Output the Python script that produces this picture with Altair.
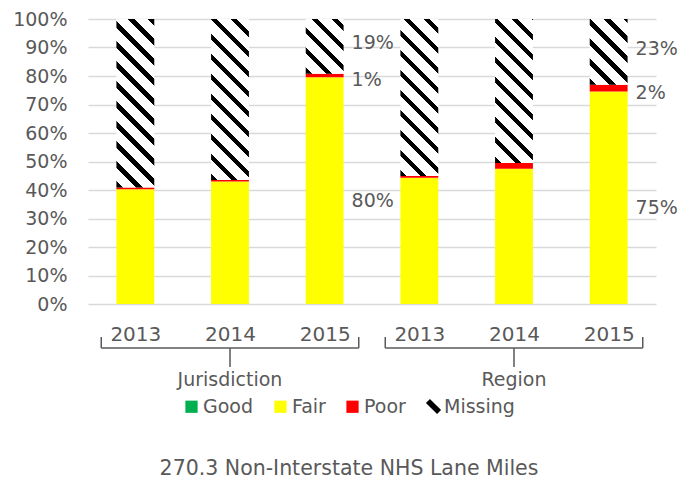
import json
import altair as alt
import pandas as pd

# ---------------- data ----------------
groups = ["Jurisdiction", "Region"]
years = ["2013", "2014", "2015"]
categories = ["Good", "Fair", "Poor", "Missing"]
category_colors = ["#00B050", "#FFFF00", "#FF0000", "#000000"]

good = [0.0, 0.0, 0.0, 0.0, 0.0, 0.0]
fair = [40.3, 43.0, 79.6, 44.3, 47.5, 74.6]
poor = [0.6, 0.5, 1.2, 0.6, 2.0, 2.3]
missing = [59.1, 56.5, 19.2, 55.1, 50.5, 23.1]

labelled_year = "2015"
chart_title = "270.3 Non-Interstate NHS Lane Miles"

# ---------------- style ----------------
TEXT = "#595959"
GRID = "#D9D9D9"
FONT = "DejaVu Sans"
PLOT_W, PLOT_H = 568, 285
N_BARS = len(groups) * len(years)
BAR_HALF = 0.2          # half bar width in band units
STRIPE_PERIOD = 20.0    # px, hatch repeat
BLACK_FRAC = 0.33
LABEL_DY = {"Fair": 10, "Poor": 5, "Missing": -3}

series = {"Good": good, "Fair": fair, "Poor": poor, "Missing": missing}
rows = []
for g_i, g in enumerate(groups):
    for y_i, yr in enumerate(years):
        i = g_i * len(years) + y_i
        base = 0.0
        for c in categories:
            v = series[c][i]
            rows.append(dict(idx=i, group=g, year=yr, category=c, value=v,
                             y0=base, y1=base + v, mid=base + v / 2,
                             x0=i - BAR_HALF, x1=i + BAR_HALF,
                             label=f"{round(v)}%"))
            base += v
df = pd.DataFrame(rows)

grows = []
for g_i, g in enumerate(groups):
    start = g_i * len(years)
    end = start + len(years) - 1
    grows.append(dict(group=g, left=start - 0.36, right=end + 0.36,
                      mid=(start + end) / 2))
gdf = pd.DataFrame(grows)

year_labels = [yr for _ in groups for yr in years]

x_scale = alt.Scale(domain=[-0.5, N_BARS - 0.5], nice=False, zero=False)
y_scale = alt.Scale(domain=[0, 100], nice=False)
x_axis = alt.Axis(values=list(range(N_BARS)),
                  labelExpr=json.dumps(year_labels).replace('"', "'") + "[datum.value]",
                  title=None, grid=False, domain=False, ticks=False, tickSize=0,
                  labelPadding=20, labelFontSize=20, labelColor=TEXT, labelFont=FONT)
y_axis = alt.Axis(values=list(range(0, 101, 10)), labelExpr="datum.value + '%'",
                  title=None, domain=False, ticks=False, tickSize=0,
                  labelPadding=21, labelFontSize=19, labelColor=TEXT, labelFont=FONT,
                  gridColor=GRID, gridWidth=1.5)

X0 = alt.X("x0:Q", scale=x_scale, axis=x_axis)
Y0 = alt.Y("y0:Q", scale=y_scale, axis=y_axis)

# solid segments
solid = alt.Chart(df).transform_filter(
    alt.FieldOneOfPredicate(field="category", oneOf=categories[:3])
).mark_bar().encode(
    x=X0, x2="x1:Q", y=Y0, y2="y1:Q",
    color=alt.Color("category:N",
                    scale=alt.Scale(domain=categories[:3], range=category_colors[:3]),
                    legend=alt.Legend(orient="none", legendX=94, legendY=378,
                                      direction="horizontal", title=None,
                                      symbolType="square", symbolSize=150,
                                      symbolStrokeWidth=0, labelFontSize=19,
                                      labelColor=TEXT, labelFont=FONT,
                                      columnPadding=17, labelOffset=2, padding=0)),
)


def hatch(h):
    w = 2 * BAR_HALF * PLOT_W / N_BARS
    k = (w + h) / (w * w + h * h)
    pf = STRIPE_PERIOD / (w + h)
    stops = []
    s = 0.0
    while s < 1 - 1e-9:
        e = min(s + BLACK_FRAC * pf, 1.0)
        n = min(s + pf, 1.0)
        stops += [(s, "#000000"), (e, "#000000"), (e, "#FFFFFF"), (n, "#FFFFFF")]
        s += pf
    return alt.LinearGradient(
        gradient="linear",
        stops=[alt.GradientStop(offset=round(o, 5), color=c) for o, c in stops],
        x1=0, y1=1, x2=k * w, y2=1 - k * h)


hatch_layers = []
for i in range(N_BARS):
    h_px = missing[i] / 100 * PLOT_H
    hatch_layers.append(
        alt.Chart(df).transform_filter(
            (alt.datum.category == "Missing") & (alt.datum.idx == i)
        ).mark_bar(fill=hatch(h_px)).encode(x=X0, x2="x1:Q", y=Y0, y2="y1:Q")
    )

# legend entry for Missing (zero-height marks)
missing_legend = alt.Chart(df).transform_filter(
    alt.datum.category == "Missing"
).mark_bar(fill="black", strokeWidth=0).encode(
    x=X0, x2="x1:Q", y=alt.Y("y1:Q", scale=y_scale, axis=y_axis), y2="y1:Q",
    stroke=alt.Stroke("category:N",
                      scale=alt.Scale(domain=["Missing"], range=["#000000"]),
                      legend=alt.Legend(orient="none", legendX=336, legendY=378,
                                        direction="horizontal", title=None,
                                        symbolType="M-1,-0.55L-0.55,-1L1,0.55L0.55,1Z",
                                        symbolSize=170, symbolFillColor="#000000",
                                        labelFontSize=19, labelColor=TEXT,
                                        labelFont=FONT, labelOffset=1, padding=0)),
)

label_layers = []
for c in ["Fair", "Poor", "Missing"]:
    label_layers.append(
        alt.Chart(df).transform_filter(
            (alt.datum.category == c) & (alt.datum.year == labelled_year)
        ).mark_text(align="left", baseline="middle", dx=8, dy=LABEL_DY[c],
                    fontSize=19, color=TEXT, font=FONT).encode(
            x=alt.X("x1:Q", scale=x_scale, axis=x_axis),
            y=alt.Y("mid:Q", scale=y_scale, axis=y_axis),
            text="label:N")
    )

# two-level axis brackets
BR_TOP, BR_H, BR_TICK, GROUP_Y = 318, 329, 348, 361
br = alt.Chart(gdf)
bx = lambda f: alt.X(f, scale=x_scale, axis=x_axis)
bracket_layers = [
    br.mark_rule(color=TEXT, strokeWidth=1.5).encode(
        x=bx("left:Q"), x2="right:Q", y=alt.value(BR_H)),
    br.mark_rule(color=TEXT, strokeWidth=1.5).encode(
        x=bx("left:Q"), y=alt.value(BR_TOP), y2=alt.value(BR_H)),
    br.mark_rule(color=TEXT, strokeWidth=1.5).encode(
        x=bx("right:Q"), y=alt.value(BR_TOP), y2=alt.value(BR_H)),
    br.mark_rule(color=TEXT, strokeWidth=1.5).encode(
        x=bx("mid:Q"), y=alt.value(BR_H), y2=alt.value(BR_TICK)),
    br.mark_text(baseline="middle", fontSize=19, color=TEXT, font=FONT).encode(
        x=bx("mid:Q"), y=alt.value(GROUP_Y), text="group:N"),
]

chart = alt.layer(
    solid, *hatch_layers, missing_legend, *label_layers, *bracket_layers
).properties(
    width=PLOT_W, height=PLOT_H,
    autosize=alt.AutoSizeParams(type="none"),
    padding={"left": 80, "top": 11, "right": 22, "bottom": 184},
    title=alt.TitleParams(text=chart_title, orient="bottom", anchor="middle",
                          fontSize=20.5, fontWeight="normal", color=TEXT,
                          font=FONT, offset=42, dx=-23),
).configure(font=FONT, view=alt.ViewConfig(stroke=None))

chart.save("out.html", embed_options={"renderer": "svg", "actions": False})
